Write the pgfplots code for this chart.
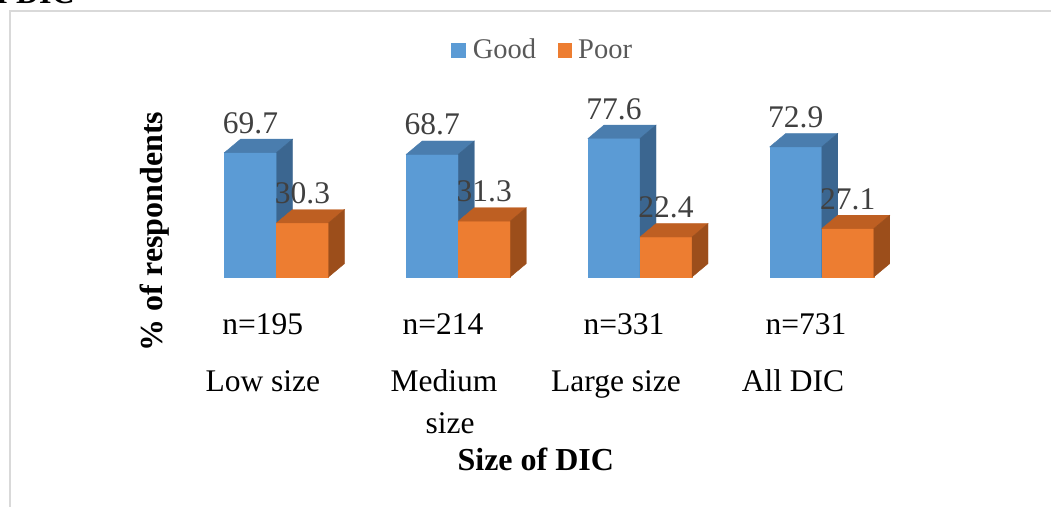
\documentclass[border=0pt]{standalone}
\usepackage{fontspec}
\setmainfont{Liberation Serif}
\usepackage{pgfplots}
\pgfplotsset{compat=1.18}

\definecolor{goodfront}{HTML}{5B9BD5}
\definecolor{goodtop}{HTML}{4A7DAE}
\definecolor{goodside}{HTML}{3B6690}
\definecolor{poorfront}{HTML}{ED7D31}
\definecolor{poortop}{HTML}{BE5F22}
\definecolor{poorside}{HTML}{9C4E1B}
\definecolor{valuegray}{HTML}{404040}
\definecolor{legendgray}{HTML}{595959}
\definecolor{framegray}{HTML}{D9D9D9}

% an empty mark: the boxes are drawn by the scatter code
\pgfdeclareplotmark{none3d}{}

\newcommand\labelfont{\fontsize{31.5}{41.6}\selectfont}
\newcommand\titlefont{\bfseries\fontsize{32}{38}\selectfont}

% half bar width, depth offsets (pt) and y unit (pt per percent)
\def\hw{26}
\def\dx{16}
\def\dy{13.4}
\def\yu{1.785}

\pgfplotsset{
  % #1 front, #2 top, #3 side colour, #4 offset of the front face centre (pt)
  box3d/.style n args={4}{%
    only marks, scatter, mark=none3d,
    visualization depends on={rawy \as \ry},
    scatter/@pre marker code/.code={%
      \pgfmathsetmacro\hh{\ry*\yu}%
      \pgfmathsetmacro\xl{#4-\hw}%
      \pgfmathsetmacro\xr{#4+\hw}%
      \pgfmathsetmacro\xlb{\xl+\dx}%
      \pgfmathsetmacro\xrb{\xr+\dx}%
      \pgfmathsetmacro\yb{\dy-\hh}%
      \pgfmathsetmacro\yl{\dy+6}%
      \fill[#1] (\xl pt,-\hh pt) rectangle (\xr pt,0pt);
      \fill[#2] (\xl pt,0pt) -- (\xr pt,0pt) -- (\xrb pt,\dy pt) -- (\xlb pt,\dy pt) -- cycle;
      \fill[#3] (\xr pt,0pt) -- (\xrb pt,\dy pt) -- (\xrb pt,\yb pt) -- (\xr pt,-\hh pt) -- cycle;
      \node[anchor=base, text=valuegray, font=\labelfont, inner sep=0pt]
        at (#4pt,\yl pt) {\pgfmathprintnumber[fixed,precision=1,fixed zerofill,assume math mode=true]{\ry}};
    },
    scatter/@post marker code/.code={},
  },
}

\begin{document}
\begin{tikzpicture}
\path[use as bounding box] (0,0) rectangle (1051pt,506pt);
\clip (0,0) rectangle (1051pt,506pt);

% caption line above the chart area and the chart frame
\node[anchor=base east, font=\titlefont, inner sep=0pt] at (75pt,502pt) {of DIC};
\draw[framegray, line width=2pt] (10pt,-20pt) |- (1070pt,495pt);

\begin{axis}[
  at={(94.75pt,229pt)}, anchor=south west,
  x=181.75pt, y=1.785pt,
  xmin=-1, xmax=4, ymin=0, ymax=100,
  hide axis, clip=false,
]
\addplot[box3d={goodfront}{goodtop}{goodside}{-26}]
  coordinates {(0,69.7) (1,68.7) (2,77.6) (3,72.9)};
\addplot[box3d={poorfront}{poortop}{poorside}{26}]
  coordinates {(0,30.3) (1,31.3) (2,22.4) (3,27.1)};
\end{axis}

% legend
\fill[goodfront] (450.7pt,447.7pt) rectangle (465.7pt,462.7pt);
\node[anchor=base west, inner sep=0pt, text=legendgray, font=\fontsize{28.5}{34}\selectfont]
  at (472.7pt,447.7pt) {Good};
\fill[poorfront] (557.7pt,447.7pt) rectangle (572.3pt,462.7pt);
\node[anchor=base west, inner sep=0pt, text=legendgray, font=\fontsize{28.5}{34}\selectfont]
  at (578pt,447.7pt) {Poor};

% category labels
\foreach \x/\t in {262.7/n=195, 443/n=214, 624/n=331, 806/n=731}
  \node[anchor=base, inner sep=0pt, font=\labelfont] at (\x pt,171pt) {\t};
\foreach \x/\t in {262.8/Low size, 444/Medium, 616/Large size, 793/All DIC}
  \node[anchor=base, inner sep=0pt, font=\labelfont] at (\x pt,114.3pt) {\t};
\node[anchor=base, inner sep=0pt, font=\labelfont] at (450pt,72.7pt) {size};

% axis titles
\node[rotate=90, anchor=base, inner sep=0pt, font=\titlefont] at (162.5pt,274.5pt) {\% of respondents};
\node[anchor=base, inner sep=0pt, font=\titlefont] at (535.8pt,36pt) {Size of DIC};
\end{tikzpicture}
\end{document}
